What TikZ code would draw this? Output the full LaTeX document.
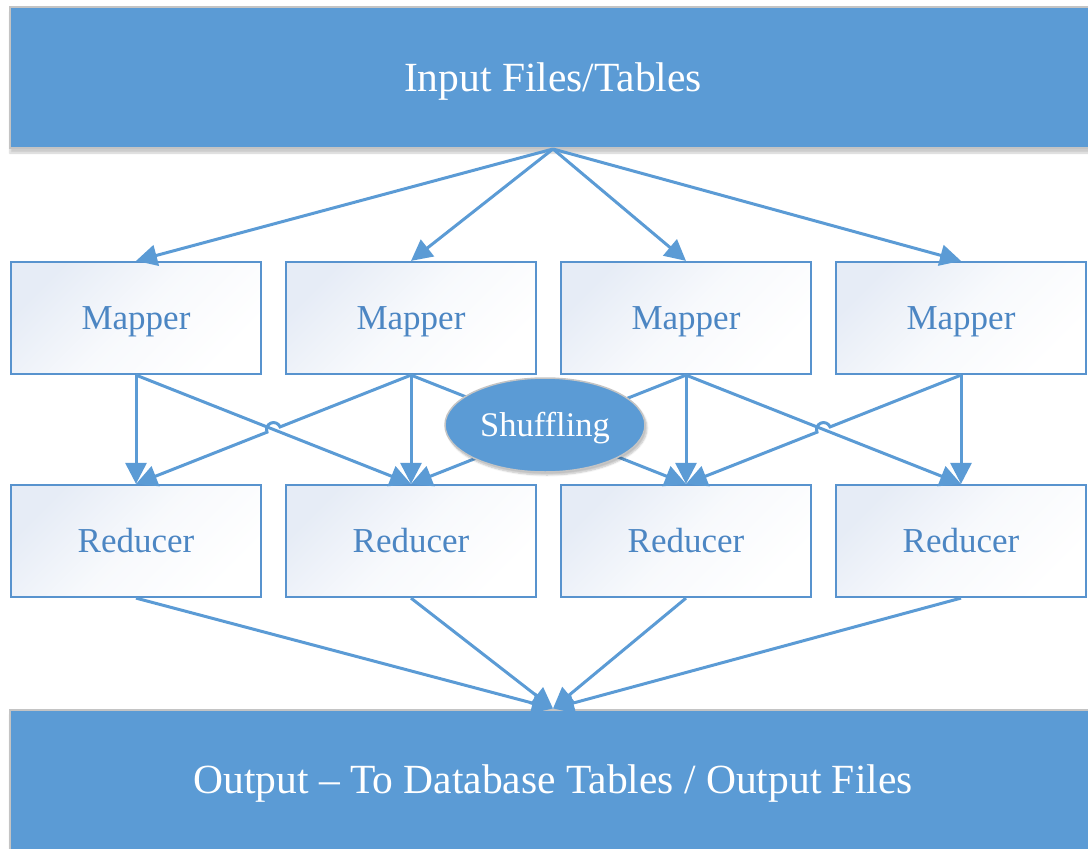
\documentclass[tikz,border=0pt]{standalone}
\usepackage{fontspec}
\setmainfont{Liberation Serif}
\usetikzlibrary{arrows.meta,shapes.geometric,shadows.blur,calc}

\definecolor{mrblue}{HTML}{5B9BD5}
\definecolor{boxline}{HTML}{5893CE}
\definecolor{tint}{HTML}{E6ECF6}
\definecolor{textblue}{HTML}{4C86C3}
\definecolor{rimgray}{HTML}{C4C4C4}

\tikzset{
  banner/.style={draw=rimgray, line width=2pt, fill=mrblue, text=white,
    font=\fontsize{41.5}{48}\selectfont, minimum width=1086pt, minimum height=141pt,
    inner sep=0pt, text height=27pt, text depth=0pt,
    blur shadow={shadow xshift=0pt, shadow yshift=-5pt, shadow opacity=20, shadow blur steps=6}},
  task/.style={draw=boxline, line width=2.2pt, top color=tint, bottom color=white,
    middle color=white!70!tint, shading angle=45, text=textblue,
    font=\fontsize{35}{40}\selectfont, text height=23pt, text depth=0pt,
    minimum width=250pt, minimum height=112pt, inner sep=0pt},
  flow/.style={draw=mrblue, line width=3pt, -{Triangle[length=21pt,width=21pt]}},
  blob/.style={ellipse, draw=rimgray, line width=1.5pt, fill=mrblue, text=white,
    font=\fontsize{34.5}{40}\selectfont, text height=23pt, text depth=0pt,
    minimum width=200pt, minimum height=94pt, inner sep=0pt,
    blur shadow={shadow xshift=2pt, shadow yshift=-3pt, shadow opacity=25, shadow blur steps=6}}
}

\begin{document}
\begin{tikzpicture}[x=1pt,y=-1pt]
\clip (0,0) rectangle (1088,849);
\useasboundingbox (0,0) rectangle (1088,849);

% input and output banners
\node[banner] (in)  at (553,77.5) {Input Files/Tables};
\node[banner] (out) at (553,780)  {Output -- To Database Tables / Output Files};

% mapper and reducer rows
\foreach \i/\x in {1/136,2/411,3/686,4/961}{
  \node[task] (m\i) at (\x,318) {Mapper};
  \node[task] (r\i) at (\x,541) {Reducer};
}

% input fan-out
\foreach \i in {1,...,4}{
  \draw[flow] (in.south) -- (m\i.north);
}

% straight map-to-reduce links
\draw[flow] (m1.south) -- (r1.north);
\draw[flow] (m1.south) -- (r2.north);
\draw[flow] (m2.south) -- (r2.north);
\draw[flow] (m2.south) -- (r3.north);
\draw[flow] (m3.south) -- (r2.north);
\draw[flow] (m3.south) -- (r3.north);
\draw[flow] (m3.south) -- (r4.north);
\draw[flow] (m4.south) -- (r4.north);

% links that hop over a crossing line
\coordinate (x1) at (273.5,429.5);
\coordinate (x2) at (823.5,429.5);
\draw[flow] (m2.south) -- ($(x1)!7pt!(m2.south)$)
  arc[start angle=22, end angle=202, radius=7pt] -- (r1.north);
\draw[flow] (m4.south) -- ($(x2)!7pt!(m4.south)$)
  arc[start angle=22, end angle=202, radius=7pt] -- (r3.north);

% reducers feed the output
\foreach \i in {1,...,4}{
  \draw[flow] (r\i.south) -- (out.north);
}

% shuffle stage
\node[blob] (shuf) at (545,425) {Shuffling};
\end{tikzpicture}
\end{document}
